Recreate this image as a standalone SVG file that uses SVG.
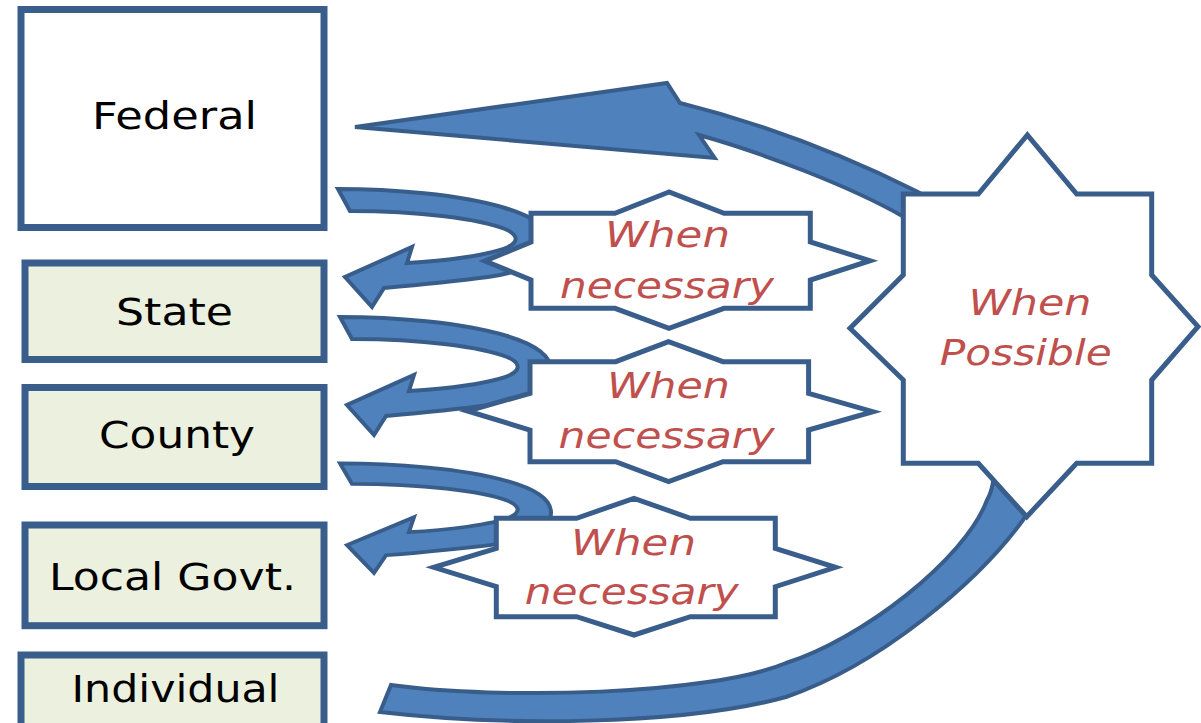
<svg xmlns="http://www.w3.org/2000/svg" width="1201" height="723" viewBox="0 0 1201 723">
<style>
.box{fill:#ebf1de;stroke:#3a5e8b;stroke-width:7}
.boxw{fill:#ffffff;stroke:#3a5e8b;stroke-width:7}
.lbl{font-family:'DejaVu Sans',Verdana,sans-serif;font-size:37px;fill:#000;text-anchor:middle}
.star{fill:#ffffff;stroke:#3a5e8b;stroke-width:5;stroke-linejoin:miter}
.st{font-family:'DejaVu Sans',Verdana,sans-serif;font-size:36px;font-style:italic;fill:#c0504d;text-anchor:middle}
.arr{fill:#4f81bd;stroke:#385d8a;stroke-width:4;stroke-linejoin:miter}
</style>
<defs>
<path id="uarrow" d="M338,189 C390,189 460,194 505,208 C535,217 549,228 549,242 C549,258 525,272 488,277 C465,280 440,283 384,288 L372,307 L345,277 L412,247 L407,263 C445,261 490,255 508,247 C520,241 517,234 505,229 C480,219 420,211 350,211 Z"/>
</defs>
<rect width="1201" height="723" fill="#ffffff"/>
<g id="connectors">
<path id="big-arrow" class="arr" d="M391,685 L380,712 C500,726 680,726 786,697 C880,665 978,582 1023,520 C1063,465 1000,235 918,192 C838,152 760,123 680,103 L667,83 L355,127 L714.6,158 L699,135 C760,152 850,186 904,217 C958,252 1015,455 987,500 C965,560 860,640 786,663 C710,695 500,700 391,685 Z"/>
<use id="arrow-federal-state" href="#uarrow" class="arr"/>
<use id="arrow-state-county" href="#uarrow" class="arr" transform="translate(2,128)"/>
<use id="arrow-county-local" href="#uarrow" class="arr" transform="matrix(1,0,0,0.928,2,288)"/>
</g>
<g id="federal">
<rect class="boxw" x="21" y="9.5" width="303" height="218"/>
<text class="lbl" x="174.5" y="129" textLength="165" lengthAdjust="spacingAndGlyphs">Federal</text>
</g>
<g id="state">
<rect class="box" x="25" y="263" width="299" height="96.5"/>
<text class="lbl" x="174.5" y="325" textLength="117" lengthAdjust="spacingAndGlyphs">State</text>
</g>
<g id="county">
<rect class="box" x="25" y="387.5" width="299" height="99"/>
<text class="lbl" x="177" y="448" textLength="156" lengthAdjust="spacingAndGlyphs">County</text>
</g>
<g id="local-govt">
<rect class="box" x="25" y="525" width="299" height="100.7"/>
<text class="lbl" x="172.5" y="590" textLength="247" lengthAdjust="spacingAndGlyphs">Local Govt.</text>
</g>
<g id="individual">
<rect class="box" x="21" y="655" width="303" height="90"/>
<text class="lbl" x="175.5" y="702" textLength="208" lengthAdjust="spacingAndGlyphs">Individual</text>
</g>
<g id="when-necessary-1">
<polygon class="star" points="669,192 615,213.3 531,213.3 531,242 485,261 531,280 531,308.3 615,308.3 669,328.3 724,308.3 810.3,308.3 810.3,280 870,260.7 810.3,242 810.3,213.3 724,213.3"/>
<text class="st" x="667.5" y="247" textLength="125" lengthAdjust="spacingAndGlyphs">When</text>
<text class="st" x="667" y="298" textLength="214" lengthAdjust="spacingAndGlyphs">necessary</text>
</g>
<g id="when-necessary-2">
<polygon class="star" points="668.6,341.7 615.7,361.7 530,361.7 530,393.3 467.5,411 530,430 530,461.7 615.7,461.7 668.6,481.7 722.9,461.7 808.6,461.7 808.6,430 872.9,411.7 808.6,393.3 808.6,361.7 722.9,361.7"/>
<text class="st" x="668.4" y="398" textLength="123" lengthAdjust="spacingAndGlyphs">When</text>
<text class="st" x="666.6" y="448" textLength="216" lengthAdjust="spacingAndGlyphs">necessary</text>
</g>
<g id="when-necessary-3">
<polygon class="star" points="634,498.3 576.6,518.3 496.3,518.3 496.3,548.3 433.8,567.3 496.3,586.7 496.3,616.7 576.6,616.7 634,635 690.4,616.7 775.3,616.7 775.3,586.7 835.5,567.3 775.3,548.3 775.3,518.3 690.4,518.3"/>
<text class="st" x="633.5" y="555" textLength="125" lengthAdjust="spacingAndGlyphs">When</text>
<text class="st" x="631.8" y="604" textLength="214" lengthAdjust="spacingAndGlyphs">necessary</text>
</g>
<g id="when-possible">
<polygon class="star" points="1027.3,135 978.3,194 903.3,194 903.3,275 850,328.3 903.3,380 903.3,463.3 978.3,463.3 1026.7,516.7 1076.7,463.3 1151.7,463.3 1151.7,380 1198,326.7 1151.7,275 1151.7,194 1076.7,194"/>
<text class="st" x="1030" y="315" textLength="123" lengthAdjust="spacingAndGlyphs">When</text>
<text class="st" x="1025.8" y="365" textLength="172" lengthAdjust="spacingAndGlyphs">Possible</text>
</g>
</svg>
